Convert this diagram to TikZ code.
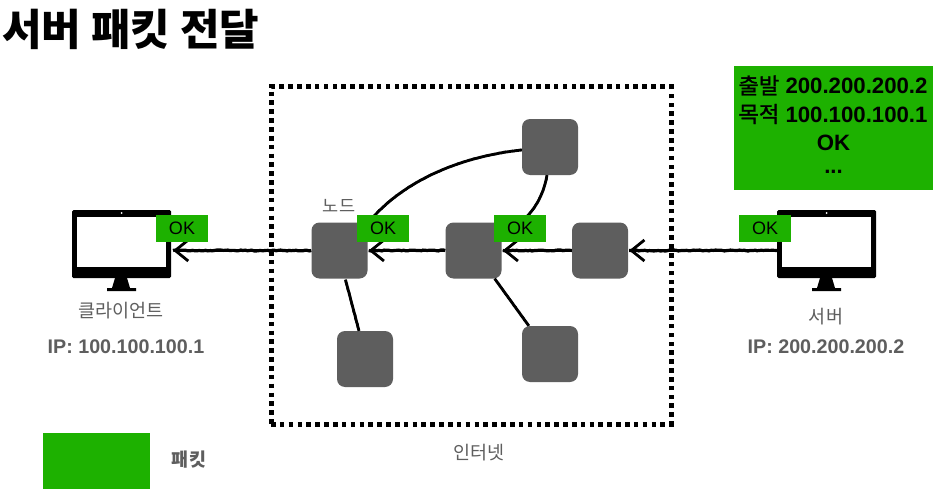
\documentclass[tikz,border=0pt]{standalone}
\usepackage{fontspec}
\setmainfont{Liberation Sans}
\newfontfamily\kr{Noto Sans CJK KR}
\newfontfamily\krm[FakeBold=1.2]{Noto Sans CJK KR}
\usetikzlibrary{arrows.meta,decorations.pathmorphing,calc}
\definecolor{pgreen}{HTML}{1DB100}
\definecolor{ngray}{HTML}{5E5E5E}
\newcommand{\fs}[1]{\fontsize{#1pt}{#1pt}\selectfont}
\tikzset{
  x=1pt,y=-1pt,
  router/.style={draw=none,fill=ngray,rounded corners=8pt,minimum width=56pt,minimum height=56pt,inner sep=0pt},
  tagbox/.style={fill=pgreen,text=black,minimum width=52pt,minimum height=27pt,inner sep=0pt,font=\fs{18}},
  caption/.style={text=ngray,inner sep=0pt,font=\kr\fs{18.5}},
  ipaddr/.style={text=ngray,inner sep=0pt,font=\bfseries\fs{19.7}},
  bezel/.style={fill=black,rounded corners=1.5pt,minimum width=99pt,minimum height=68pt,inner sep=0pt,outer sep=0pt},
  glass/.style={fill=white,minimum width=89pt,minimum height=50pt,inner sep=0pt},
  rough/.style={decorate,decoration={random steps,segment length=2.2pt,amplitude=0.5pt}},
  linkline/.style={line width=2.8pt,preaction={draw,line width=2pt,rough}},
  flowline/.style={line width=2.4pt,-{Straight Barb[length=13pt,width=21pt,line width=2.8pt]},preaction={draw,-,line width=3.2pt,rough}},
  pktline/.style={inner sep=0pt,font=\fs{22.2}\bfseries},
}
\begin{document}
\begin{tikzpicture}
\useasboundingbox[fill=white] (0,0) rectangle (943,503);
% title
\node[anchor=west,inner sep=0pt,font=\kr\bfseries\fs{43}] (title) at (2,29.5) {서버 패킷 전달};
% internet boundary
\node[draw=black,line width=5pt,dash pattern=on 4.6pt off 4.25pt,minimum width=400pt,minimum height=337pt,inner sep=0pt,outer sep=0pt] (net) at (471,255.5) {};
\node[caption] (netlabel) at (479,453) {인터넷};
% routers
\node[router] (a) at (339.5,250.5) {};
\node[router] (b) at (473.5,250.5) {};
\node[router] (c) at (600,250.5) {};
\node[router] (d) at (550,147) {};
\node[router] (e) at (550,354) {};
\node[router] (f) at (365,359) {};
\node[caption,font=\kr\fs{17.5}] (nodelabel) at (339,205.5) {노드};
% monitors
\fill (115,278) -- (127,278) -- (130,288) -- (136,288) -- (136,291) -- (107,291) -- (107,288) -- (112,288) -- cycle;
\node[bezel] (client) at (121.5,244) {};
\node[glass] (cscreen) at (121.5,242) {};
\fill[white] (121.5,213) circle (1pt);
\fill (820,278) -- (832,278) -- (835,288) -- (841,288) -- (841,291) -- (812,291) -- (812,288) -- (817,288) -- cycle;
\node[bezel] (server) at (826.5,244) {};
\node[glass] (sscreen) at (826.5,242) {};
\fill[white] (826.5,213) circle (1pt);
% links
\draw[linkline] ($(a.north east)+(0,1)$) .. controls (405,178) and (465,156) .. ($(d.west)+(0,3)$);
\draw[linkline] ($(d.south)+(-3,0)$) .. controls (543,198) and (532,218) .. ($(b.north east)+(2,12)$);
\draw[linkline] ($(b.south east)+(-7,0)$) -- ($(e.north west)+(7,0)$);
\draw[linkline] ($(a.south)+(6,1)$) -- ($(f.north)+(-6,0)$);
% flows
\draw[flowline] (server.west |- c.east) -- ($(c.east)+(1,0)$);
\draw[flowline] (c.west) -- ($(b.east)+(1,0)$);
\draw[flowline] (b.west) -- ($(a.east)+(1,0)$);
\draw[flowline] (a.west) -- ($(client.east |- a.west)+(2,0)$);
% packets
\node[tagbox] (t1) at (182,228.5) {OK};
\node[tagbox] (t2) at (383,228.5) {OK};
\node[tagbox] (t3) at (520,228.5) {OK};
\node[tagbox] (t4) at (765,228.5) {OK};
\node[fill=pgreen,minimum width=199pt,minimum height=124pt,inner sep=0pt] (pkt) at (833.5,128) {};
\node[pktline] (l1) at (833,85.5) {{\mdseries\krm 출발} 200.200.200.2};
\node[pktline] (l2) at (833,114) {{\mdseries\krm 목적} 100.100.100.1};
\node[pktline] (l3) at (833.5,143) {OK};
\node[pktline] (l4) at (833.5,172) {...};
% labels
\node[caption] (clabel) at (121,311) {클라이언트};
\node[ipaddr] (cip) at (126,347) {IP: 100.100.100.1};
\node[caption] (slabel) at (826,316.5) {서버};
\node[ipaddr] (sip) at (826,347) {IP: 200.200.200.2};
% legend
\node[fill=pgreen,minimum width=107pt,minimum height=56pt,inner sep=0pt] (legend) at (96.5,461) {};
\node[inner sep=0pt,text=ngray,font=\kr\bfseries\fs{18.5}] (legendlabel) at (189,459.5) {패킷};
\end{tikzpicture}
\end{document}
